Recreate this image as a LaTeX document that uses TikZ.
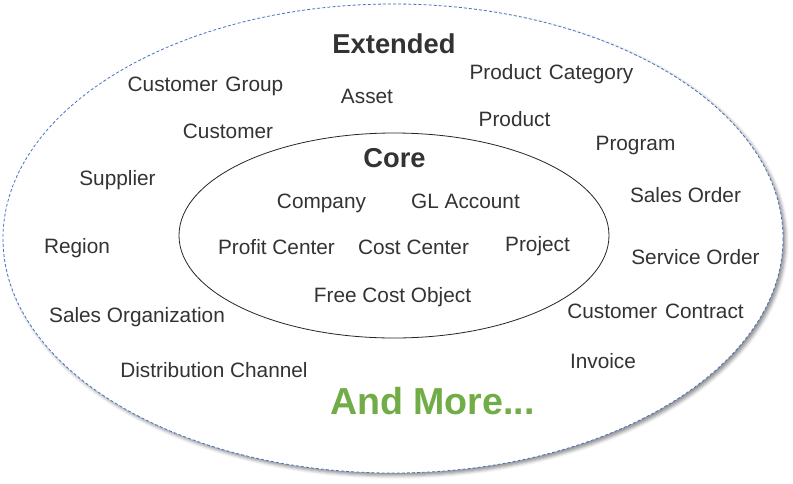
\documentclass[tikz,border=0pt]{standalone}
\usepackage{fontspec}
\setmainfont{Liberation Sans}
\usetikzlibrary{shadows.blur}
\definecolor{txtgray}{HTML}{333333}
\definecolor{edgeblue}{HTML}{4472C4}
\definecolor{moregreen}{HTML}{70AD47}
\newcommand{\wsp}{\hspace{0.37em}}

\begin{document}
\begin{tikzpicture}[x=0.75pt,y=-0.75pt,
  item/.style={anchor=base,inner sep=0pt,text=txtgray,font=\fontsize{15.6}{18}\selectfont},
  title/.style={anchor=base,inner sep=0pt,text=txtgray,font=\fontsize{20.5}{24}\selectfont\bfseries},
  more/.style={anchor=base,inner sep=0pt,text=moregreen,font=\fontsize{28.2}{32}\selectfont\bfseries}]
\useasboundingbox (0,0) rectangle (793,483);
\draw[edgeblue,line width=0.6pt,dash pattern=on 2.2pt off 1.6pt,fill=white,
  blur shadow={shadow xshift=2pt,shadow yshift=-2pt,shadow blur radius=2.5pt,shadow opacity=45}]
  (393,238.5) ellipse [x radius=390, y radius=234.5];
\draw[black!85,line width=0.6pt] (394,235.5) ellipse [x radius=215, y radius=102.5];
% extended
\node[title] (extended) at (394,53) {Extended};
\node[item] (custgroup) at (205.5,91.7) {Customer\wsp Group};
\node[item] (asset) at (367,103) {Asset};
\node[item] (prodcat) at (551.5,79) {Product\wsp Category};
\node[item] (product) at (514.5,126) {Product};
\node[item] (customer) at (228,138) {Customer};
\node[item] (program) at (635.5,150) {Program};
\node[item] (supplier) at (117.5,185) {Supplier};
\node[item] (salesorder) at (685.5,202) {Sales Order};
\node[item] (region) at (77,253) {Region};
\node[item] (serviceorder) at (695.5,264) {Service Order};
\node[item] (salesorg) at (137,322) {Sales Organization};
\node[item] (contract) at (655.5,318) {Customer\wsp Contract};
\node[item] (invoice) at (603,368) {Invoice};
\node[item] (distchannel) at (214,377) {Distribution Channel};
% core
\node[title] (core) at (394.5,167) {Core};
\node[item] (company) at (321.5,208) {Company};
\node[item] (glaccount) at (465.5,208) {GL Account};
\node[item] (profitcenter) at (276.5,254) {Profit Center};
\node[item] (costcenter) at (413.5,254) {Cost Center};
\node[item] (project) at (537.5,251) {Project};
\node[item] (freecost) at (392.5,302) {Free Cost Object};
\node[more] (andmore) at (432.5,414) {And More...};
\end{tikzpicture}
\end{document}
